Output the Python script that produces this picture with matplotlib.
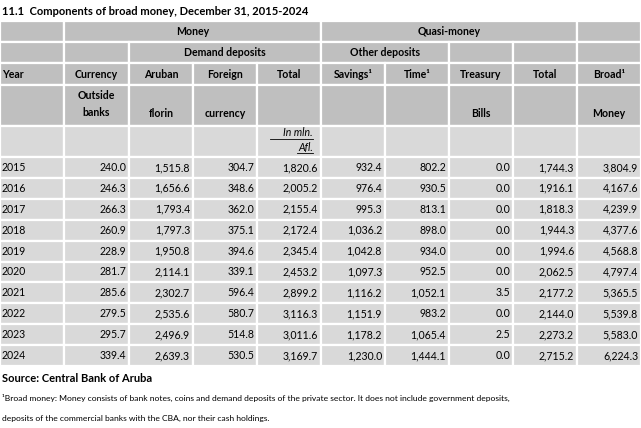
import matplotlib.pyplot as plt
from matplotlib.patches import Rectangle

plt.rcParams['font.family'] = ['Lato', 'DejaVu Sans']

years = ['2015', '2016', '2017', '2018', '2019', '2020', '2021', '2022', '2023', '2024']
currency = ['240.0', '246.3', '266.3', '260.9', '228.9', '281.7', '285.6', '279.5', '295.7', '339.4']
aruban = ['1,515.8', '1,656.6', '1,793.4', '1,797.3', '1,950.8', '2,114.1', '2,302.7', '2,535.6', '2,496.9', '2,639.3']
foreign = ['304.7', '348.6', '362.0', '375.1', '394.6', '339.1', '596.4', '580.7', '514.8', '530.5']
dd_total = ['1,820.6', '2,005.2', '2,155.4', '2,172.4', '2,345.4', '2,453.2', '2,899.2', '3,116.3', '3,011.6', '3,169.7']
savings = ['932.4', '976.4', '995.3', '1,036.2', '1,042.8', '1,097.3', '1,116.2', '1,151.9', '1,178.2', '1,230.0']
time_dep = ['802.2', '930.5', '813.1', '898.0', '934.0', '952.5', '1,052.1', '983.2', '1,065.4', '1,444.1']
treasury = ['0.0', '0.0', '0.0', '0.0', '0.0', '0.0', '3.5', '0.0', '2.5', '0.0']
qm_total = ['1,744.3', '1,916.1', '1,818.3', '1,944.3', '1,994.6', '2,062.5', '2,177.2', '2,144.0', '2,273.2', '2,715.2']
broad = ['3,804.9', '4,167.6', '4,239.9', '4,377.6', '4,568.8', '4,797.4', '5,365.5', '5,539.8', '5,583.0', '6,224.3']

fig = plt.figure(figsize=(6.41, 4.28), dpi=100)
ax = fig.add_axes([0, 0, 1, 1])
ax.set_xlim(0, 641)
ax.set_ylim(428, 0)
ax.axis('off')

xs = [0, 64, 129, 193, 257, 321, 385, 449, 513, 577, 641]
dark = '#bfbfbf'
light = '#d9d9d9'
fs = 7.6


def cell(c0, c1, y0, y1, color):
    ax.add_patch(Rectangle((xs[c0], y0), xs[c1] - xs[c0], y1 - y0,
                           facecolor=color, edgecolor='white', linewidth=1.6))


def put(x, y, s, ha='center', bold=True, **kw):
    ax.text(x, y, s, ha=ha, va='center', fontsize=fs,
            fontweight='bold' if bold else 'normal', **kw)


ax.text(2, 11, '11.1  Components of broad money, December 31, 2015-2024',
        fontsize=8, fontweight='bold', va='center')

# header row 1
cell(0, 1, 21, 42, dark); cell(1, 5, 21, 42, dark); cell(5, 9, 21, 42, dark); cell(9, 10, 21, 42, dark)
put((xs[1] + xs[5]) / 2, 31.5, 'Money')
put((xs[5] + xs[9]) / 2, 31.5, 'Quasi-money')

# header row 2
for a, b in [(0, 1), (1, 2), (2, 5), (5, 7), (7, 8), (8, 9), (9, 10)]:
    cell(a, b, 42, 63, dark)
put((xs[2] + xs[5]) / 2, 52.5, 'Demand deposits')
put((xs[5] + xs[7]) / 2, 52.5, 'Other deposits')

# header row 3
heads = ['Currency', 'Aruban', 'Foreign', 'Total', 'Savings\u00b9', 'Time\u00b9', 'Treasury', 'Total', 'Broad\u00b9']
for i in range(10):
    cell(i, i + 1, 63, 85, dark)
put(2, 74, 'Year', ha='left')
for i, h in enumerate(heads):
    put((xs[i + 1] + xs[i + 2]) / 2, 74, h)

# header row 4
for i in range(10):
    cell(i, i + 1, 85, 126, dark)
put((xs[1] + xs[2]) / 2, 95, 'Outside')
put((xs[1] + xs[2]) / 2, 112, 'banks')
put((xs[2] + xs[3]) / 2, 113, 'florin')
put((xs[3] + xs[4]) / 2, 113, 'currency')
put((xs[7] + xs[8]) / 2, 113, 'Bills')
put((xs[9] + xs[10]) / 2, 113, 'Money')

# unit row
for i in range(10):
    cell(i, i + 1, 126, 157, light)
ax.text(xs[5] - 8, 133, 'In mln.', ha='right', va='center', fontsize=fs, style='italic')
ax.text(xs[5] - 8, 147, 'Afl.', ha='right', va='center', fontsize=fs, style='italic')
ax.plot([270, 313], [139, 139], color='black', lw=0.6)
ax.plot([297, 313], [153, 153], color='black', lw=0.6)

# data rows
cols = [currency, aruban, foreign, dd_total, savings, time_dep, treasury, qm_total, broad]
step = 20.9
for r, yr in enumerate(years):
    y0 = 157 + r * step
    for i in range(10):
        cell(i, i + 1, y0, y0 + step, light)
    put(2, y0 + step / 2, yr, ha='left', bold=False)
    for i, col in enumerate(cols):
        put(xs[i + 2] - 3, y0 + step / 2, col[r], ha='right', bold=False)

ax.text(2, 378, 'Source: Central Bank of Aruba', fontsize=8, fontweight='bold', va='center')
ax.text(2, 398, '\u00b9Broad money: Money consists of bank notes, coins and demand deposits of the private sector. It does not include government deposits,',
        fontsize=6.1, va='center')
ax.text(2, 418, 'deposits of the commercial banks with the CBA, nor their cash holdings.',
        fontsize=6.1, va='center')

fig.savefig('out.png', dpi=100)
